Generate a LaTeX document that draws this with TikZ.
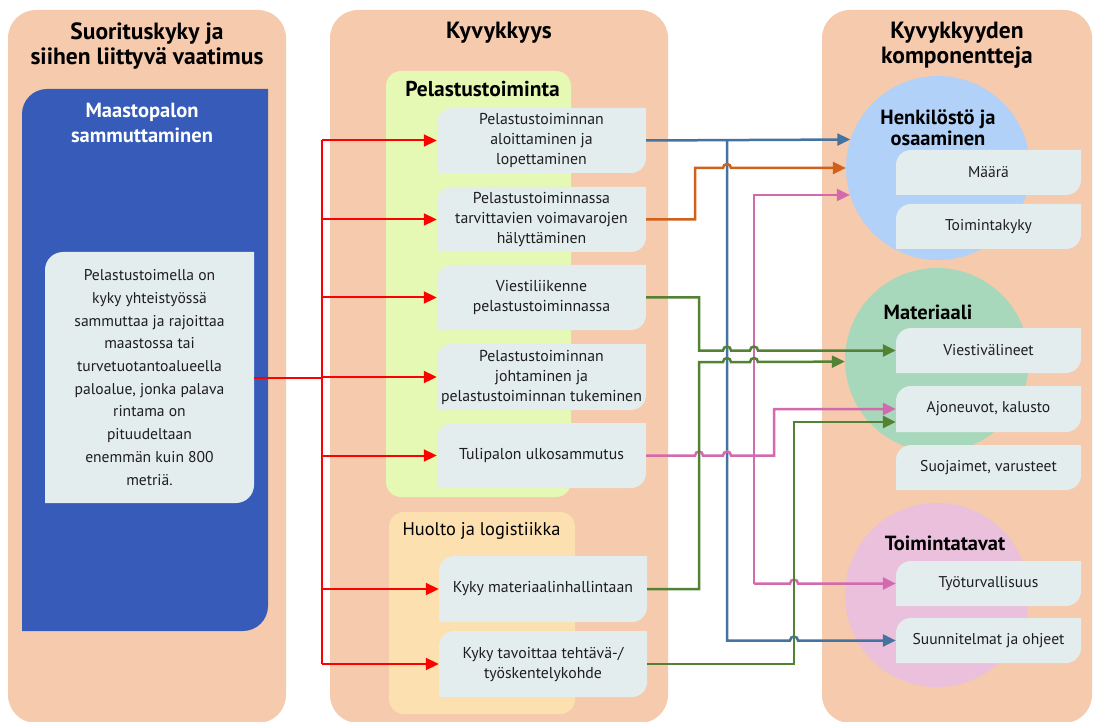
\documentclass[tikz,border=0pt]{standalone}
\usepackage{fontspec}
\setmainfont{PT Sans}
\usetikzlibrary{arrows.meta,calc}
\definecolor{peach}{HTML}{F6CAAC}
\definecolor{limefill}{HTML}{E5F9B4}
\definecolor{huoltofill}{HTML}{FCE0B0}
\definecolor{boxfill}{HTML}{E4EDEE}
\definecolor{bluebox}{HTML}{365BB9}
\definecolor{cblue}{HTML}{B1D1F9}
\definecolor{cgreen}{HTML}{A8D8BB}
\definecolor{cpink}{HTML}{EAC0DC}
\definecolor{lblue}{HTML}{4573A0}
\definecolor{lorange}{HTML}{D0601A}
\definecolor{lpink}{HTML}{D46AAE}
\definecolor{lgreen}{HTML}{548235}
\definecolor{lred}{HTML}{FF0000}
\definecolor{txtcol}{HTML}{1E1E1E}
\newcommand\txtA{\fontsize{15.8}{20}\selectfont}
\newcommand\txtR{\fontsize{15.6}{20}\selectfont}
\newcommand\txtL{\fontsize{15.6}{22.7}\selectfont}
\newcommand\txtT{\fontsize{23.5}{25.5}\selectfont\bfseries}
\newcommand\txtC{\fontsize{20.5}{21}\selectfont\bfseries}
\newcommand\tlbr[6]{%
  \fill[#1] (#3,#6) -- (#3,#4+#2) arc[start angle=180,end angle=270,radius=#2] -- (#5,#4) -- (#5,#6-#2) arc[start angle=0,end angle=90,radius=#2] -- cycle;}
\newcommand\boxnode[7]{%
  \tlbr{boxfill}{15}{#2}{#3}{#4}{#5}
  \node[btxt, font=#7, minimum width={(#4-#2)*1pt}, minimum height={(#5-#3)*1pt}] (#1) at ({(#2+#4)/2},{(#3+#5)/2}) {#6};}
\begin{document}
\begin{tikzpicture}[x=1pt,y=-1pt,
  btxt/.style={inner sep=0pt, align=center, text=txtcol},
  ttl/.style={inner sep=0pt, align=center, font=\txtT, text=black},
  ctl/.style={inner sep=0pt, align=center, font=\txtC, text=black},
  circ/.style={circle, inner sep=0pt, minimum size=184pt},
  rl/.style={draw=lred, line width=2pt},
  cb/.style={draw=lblue, line width=2.5pt},
  co/.style={draw=lorange, line width=2.5pt},
  cp/.style={draw=lpink, line width=2.5pt},
  cg/.style={draw=lgreen, line width=2.5pt},
  >={Triangle[length=13pt,width=12pt]}]
\useasboundingbox (0,0) rectangle (1093,722);
% panels
\fill[peach, rounded corners=28] (8,10) rectangle (286,723);
\fill[peach, rounded corners=28] (330,10) rectangle (668,723);
\fill[peach, rounded corners=28] (822,10) rectangle (1092,723);
\node[ttl] (t1) at (147,46) {Suorituskyky ja\\siihen liittyvä vaatimus};
\node[ttl] (t2) at (499,33) {Kyvykkyys};
\node[ttl] (t3) at (957,45) {Kyvykkyyden\\komponentteja};
% left column
\tlbr{bluebox}{25}{22}{89}{268}{631}
\node[inner sep=0pt, align=center, font=\fontsize{20.5}{25}\selectfont\bfseries, text=white] (mp) at (142,122.5) {Maastopalon\\sammuttaminen};
\tlbr{boxfill}{18}{45}{252}{254}{503}
\node[inner sep=0pt, align=center, font=\txtL, text=txtcol, minimum width=209pt, minimum height=251pt] (lt) at (149.5,377.5)
 {Pelastustoimella on\\kyky yhteistyössä\\sammuttaa ja rajoittaa\\maastossa tai\\turvetuotantoalueella\\paloalue, jonka palava\\rintama on\\pituudeltaan\\enemmän kuin 800\\metriä.};
% middle groups
\fill[limefill, rounded corners=15] (386,71) rectangle (571,497);
\node[inner sep=0pt, font=\fontsize{21.5}{22}\selectfont\bfseries, text=black] (gp) at (482.5,89) {Pelastustoiminta};
\fill[huoltofill, rounded corners=15] (389,512) rectangle (575,714);
\node[inner sep=0pt, font=\fontsize{18.4}{20}\selectfont, text=black] (gh) at (481.5,531) {Huolto ja logistiikka};
\boxnode{b1}{437}{108}{646}{173}{Pelastustoiminnan\\aloittaminen ja\\lopettaminen}{\txtA}
\boxnode{b2}{437}{187}{646}{252}{Pelastustoiminnassa\\tarvittavien voimavarojen\\hälyttäminen}{\txtA}
\boxnode{b3}{437}{265}{646}{330}{Viestiliikenne\\pelastustoiminnassa}{\txtA}
\boxnode{b4}{437}{344}{646}{410}{Pelastustoiminnan\\johtaminen ja\\pelastustoiminnan tukeminen}{\txtA}
\boxnode{b5}{437}{423}{646}{488}{Tulipalon ulkosammutus}{\txtA}
\boxnode{b6}{439}{556}{647}{622}{Kyky materiaalinhallintaan}{\txtA}
\boxnode{b7}{439}{631}{647}{697}{Kyky tavoittaa tehtävä-/\\työskentelykohde}{\txtA}
% right circles
\node[circ, fill=cblue] (hC) at (938,168) {};
\node[circ, fill=cgreen] (mC) at (937,360) {};
\node[circ, fill=cpink] (tC) at (937,595) {};
\node[ctl] (hT) at (938,127.5) {Henkilöstö ja\\osaaminen};
\node[ctl] (mT) at (928,312) {Materiaali};
\node[ctl] (tT) at (945,543) {Toimintatavat};
\boxnode{hm}{896}{150}{1081}{195}{Määrä}{\txtR}
\boxnode{ht}{896}{204}{1081}{249}{Toimintakyky}{\txtR}
\boxnode{mv}{896}{328}{1081}{373}{Viestivälineet}{\txtR}
\boxnode{ma}{896}{386}{1081}{432}{Ajoneuvot, kalusto}{\txtR}
\boxnode{ms}{896}{445}{1081}{490}{Suojaimet, varusteet}{\txtR}
\boxnode{tt}{896}{561}{1081}{606}{Työturvallisuus}{\txtR}
\boxnode{ts}{896}{618}{1081}{663}{Suunnitelmat ja ohjeet}{\txtR}
% guide coordinates for vertical runs
\coordinate (rv) at (322,0);
\coordinate (vO) at (695,0);
\coordinate (vG) at (699,0);
\coordinate (vB) at (727,0);
\coordinate (vP) at (754,0);
\coordinate (vQ) at (774,0);
\coordinate (vH) at (794,0);
% red connectors
\draw[rl] (lt.east) -- (lt.east -| rv);
\draw[rl] (rv |- b1.west) -- (rv |- b7.west);
\foreach \b in {b1,b2,b3,b4,b5,b6,b7}{\draw[rl,->] (rv |- \b.west) -- (\b.west);}
% blue
\draw[cb,->] (b1.east) -- (hC.162.6);
\draw[cb,->] (vB |- b1.east) -- (vB |- ts.west) -- (790,640.5) arc[start angle=180,end angle=360,radius=4] -- (ts.west);
% orange
\draw[co,->] (b2.east) -- (b2.east -| vO) -- (vO |- hC.west) -- (723,168) arc[start angle=180,end angle=360,radius=4] -- (hC.west);
% pink
\draw[cp,->] (b5.east) -- (695,455.5) arc[start angle=180,end angle=360,radius=4] -- (723,455.5) arc[start angle=180,end angle=360,radius=4] -- (b5.east -| vQ) -- (vQ |- ma.west) -- (ma.west);
\draw[cp,->] (vP |- tt.west) -- (vP |- hC.197.7) -- (hC.197.7);
\draw[cp,->] (vP |- tt.west) -- (790,583.5) arc[start angle=180,end angle=360,radius=4] -- (tt.west);
% green
\draw[cg,->] (b3.east) -- (b3.east -| vG) -- (vG |- mv.west) -- (723,350.5) arc[start angle=180,end angle=360,radius=4] -- (750,350.5) arc[start angle=180,end angle=360,radius=4] -- (mv.west);
\draw[cg,->] (b6.east) -- (b6.east -| vG) -- (699,362) -- (723,362) arc[start angle=180,end angle=360,radius=4] -- (750,362) arc[start angle=180,end angle=360,radius=4] -- (mC.181.2);
\draw[cg,->] (b7.east) -- (b7.east -| vH) -- (794,422) -- ([yshift=-13pt]ma.west);
\end{tikzpicture}
\end{document}
